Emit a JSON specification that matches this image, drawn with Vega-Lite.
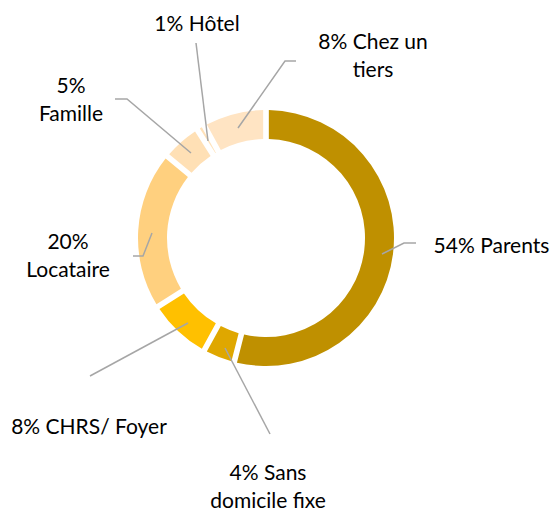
{
  "$schema": "https://vega.github.io/schema/vega-lite/v6.json",
  "width": 553,
  "height": 512,
  "padding": 0,
  "autosize": {"type": "none"},
  "background": "white",
  "config": {"view": {"stroke": null}},
  "datasets": {
    "slices": [
      {"cat": "Parents", "pct": 54, "ord": 1},
      {"cat": "Sans domicile fixe", "pct": 4, "ord": 2},
      {"cat": "CHRS/ Foyer", "pct": 8, "ord": 3},
      {"cat": "Locataire", "pct": 20, "ord": 4},
      {"cat": "Famille", "pct": 5, "ord": 5},
      {"cat": "Hôtel", "pct": 1, "ord": 6},
      {"cat": "Chez un tiers", "pct": 8, "ord": 7}
    ],
    "labels": [
      {"txt": "54% Parents", "lx": 225.5, "ly": -9},
      {"txt": "4% Sans\ndomicile fixe", "lx": 2, "ly": -236},
      {"txt": "8% CHRS/ Foyer", "lx": -177, "ly": -190},
      {"txt": "20%\nLocataire", "lx": -198, "ly": -5},
      {"txt": "5%\nFamille", "lx": -195, "ly": 151},
      {"txt": "1% Hôtel", "lx": -69, "ly": 213},
      {"txt": "8% Chez un\ntiers", "lx": 107, "ly": 195}
    ],
    "leaders": [
      {"id": "Parents", "k": 1, "px": 116, "py": -16},
      {"id": "Parents", "k": 2, "px": 138, "py": -5},
      {"id": "Parents", "k": 3, "px": 150, "py": -5},
      {"id": "Sans", "k": 1, "px": -41, "py": -110},
      {"id": "Sans", "k": 2, "px": 4, "py": -196},
      {"id": "CHRS", "k": 1, "px": -78, "py": -85},
      {"id": "CHRS", "k": 2, "px": -176, "py": -138},
      {"id": "Locataire", "k": 1, "px": -114, "py": 5},
      {"id": "Locataire", "k": 2, "px": -123, "py": -18},
      {"id": "Locataire", "k": 3, "px": -133, "py": -18},
      {"id": "Famille", "k": 1, "px": -75, "py": 85},
      {"id": "Famille", "k": 2, "px": -139, "py": 139},
      {"id": "Famille", "k": 3, "px": -151, "py": 139},
      {"id": "Hotel", "k": 1, "px": -58, "py": 97},
      {"id": "Hotel", "k": 2, "px": -70, "py": 195},
      {"id": "Chez", "k": 1, "px": -28, "py": 110},
      {"id": "Chez", "k": 2, "px": 19, "py": 177},
      {"id": "Chez", "k": 3, "px": 30, "py": 177}
    ]
  },
  "layer": [
    {
      "data": {"name": "slices"},
      "mark": {"type": "arc", "innerRadius": 99, "outerRadius": 128, "padAngle": 0.035},
      "encoding": {
        "x": {"datum": 0, "type": "quantitative", "scale": {"domain": [-266, 287], "nice": false, "zero": false}, "axis": null},
        "y": {"datum": 0, "type": "quantitative", "scale": {"domain": [-274, 238], "nice": false, "zero": false}, "axis": null},
        "theta": {"field": "pct", "type": "quantitative", "stack": true},
        "order": {"field": "ord", "type": "quantitative"},
        "color": {
          "field": "cat",
          "type": "nominal",
          "scale": {
            "domain": ["Parents", "Sans domicile fixe", "CHRS/ Foyer", "Locataire", "Famille", "Hôtel", "Chez un tiers"],
            "range": ["#BF9000", "#DFA700", "#FFC000", "#FFD07F", "#FFE0B5", "#FFE2BA", "#FFE4C3"]
          },
          "legend": null
        }
      }
    },
    {
      "data": {"name": "leaders"},
      "mark": {"type": "line", "color": "#A6A6A6", "strokeWidth": 1.5},
      "encoding": {
        "x": {"field": "px", "type": "quantitative", "scale": {"domain": [-266, 287], "nice": false, "zero": false}, "axis": null},
        "y": {"field": "py", "type": "quantitative", "scale": {"domain": [-274, 238], "nice": false, "zero": false}, "axis": null},
        "detail": {"field": "id"},
        "order": {"field": "k", "type": "quantitative"}
      }
    },
    {
      "data": {"name": "labels"},
      "mark": {"type": "text", "font": "Lato", "fontSize": 21, "color": "#000000", "align": "center", "baseline": "middle", "lineBreak": "\n", "lineHeight": 28},
      "encoding": {
        "x": {"field": "lx", "type": "quantitative", "scale": {"domain": [-266, 287], "nice": false, "zero": false}, "axis": null},
        "y": {"field": "ly", "type": "quantitative", "scale": {"domain": [-274, 238], "nice": false, "zero": false}, "axis": null},
        "text": {"field": "txt"}
      }
    }
  ]
}
